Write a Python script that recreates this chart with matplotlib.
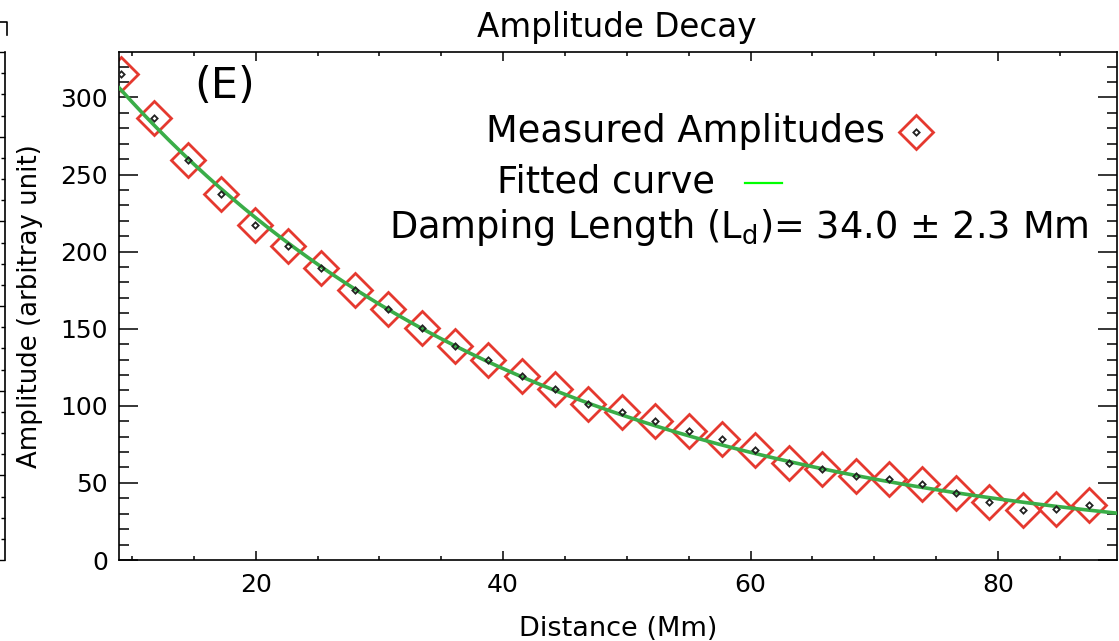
import numpy as np
import matplotlib
matplotlib.use('Agg')
import matplotlib.pyplot as plt
from matplotlib.ticker import MultipleLocator
from matplotlib.lines import Line2D

# ---- data ----
distance = [9.1, 11.8, 14.5, 17.2, 19.9, 22.6, 25.3, 28.0, 30.7, 33.4,
            36.1, 38.8, 41.5, 44.2, 46.9, 49.6, 52.3, 55.0, 57.7, 60.4,
            63.1, 65.8, 68.5, 71.2, 73.9, 76.6, 79.3, 82.0, 84.7, 87.4]
amplitude = [315.2, 286.4, 259.3, 237.7, 217.6, 203.4, 189.6, 174.9, 163.0, 150.5,
             139.1, 129.5, 119.4, 110.6, 101.5, 96.1, 90.2, 83.7, 78.2, 71.2,
             62.6, 59.0, 54.4, 52.5, 49.0, 43.6, 37.4, 32.4, 32.8, 35.6]
damping_length = 34.0
damping_err = 2.3
fit_amp = 396.0
fit_offset = 2.0
xticks_major = [20, 40, 60, 80]
yticks_major = [0, 50, 100, 150, 200, 250, 300]

W, H = 1119, 641
fig = plt.figure(figsize=(W / 100, H / 100), dpi=100)


def fx(px):
    return px / W


def fy(py):
    return 1 - py / H


FONT = 'DejaVu Sans'
plt.rcParams['font.family'] = [FONT]
plt.rcParams['mathtext.fontset'] = 'dejavusans'

RED = '#e5392f'

# ---- main axes ----
ax = fig.add_axes([fx(119.3), fy(560), fx(1116.7) - fx(119.3), fy(52) - fy(560)])
xs = np.linspace(8.97, 89.6, 400)
ax.plot(distance, amplitude, ls='none', marker='D', ms=17.5, mfc='none',
        mec=RED, mew=2.0, zorder=2)
ax.plot(xs, fit_amp * np.exp(-xs / damping_length) + fit_offset,
        color='#3aad48', lw=2.6, zorder=3)
ax.plot(distance, amplitude, ls='none', marker='D', ms=3.2, mfc='none',
        mec='#222222', mew=1.3, zorder=4)

ax.set_xlim(8.97, 89.6)
ax.set_ylim(0, 329.5)
ax.set_xticks(xticks_major)
ax.set_yticks(yticks_major)
ax.xaxis.set_minor_locator(MultipleLocator(5))
ax.yaxis.set_minor_locator(MultipleLocator(10))
ax.tick_params(axis='both', which='both', direction='in', top=True, right=True,
               width=1.1, labelsize=18, colors='black')
ax.tick_params(axis='x', which='major', length=6.5, pad=9)
ax.tick_params(axis='x', which='minor', length=3.2)
ax.tick_params(axis='y', which='major', length=14, pad=8)
ax.tick_params(axis='y', which='minor', length=7.5)
for s in ax.spines.values():
    s.set_linewidth(1.2)

ax.set_xlabel('Distance (Mm)', fontsize=19.5, labelpad=14)

# title and y label
fig.text(fx(617), fy(28), 'Amplitude Decay', ha='center', va='center', fontsize=23.5)
fig.text(fx(30), fy(306), 'Amplitude (arbitray unit)', rotation=90,
         ha='center', va='center', fontsize=18.7)

# panel letter
fig.text(fx(225), fy(86), '(E)', ha='center', va='center', fontsize=31)

# legend-like annotations
fig.text(fx(885), fy(132), 'Measured Amplitudes', ha='right', va='center', fontsize=26.5)
fig.add_artist(Line2D([fx(916)], [fy(132)], marker='D', ms=17.5, mfc='none',
                      mec=RED, mew=2.0, ls='none'))
fig.add_artist(Line2D([fx(916)], [fy(132)], marker='D', ms=3.2, mfc='none',
                      mec='#222222', mew=1.3, ls='none'))
fig.text(fx(715), fy(182), 'Fitted curve', ha='right', va='center', fontsize=26.5)
fig.add_artist(Line2D([fx(745), fx(782)], [fy(183), fy(183)], color='#00ff00', lw=1.6))
fig.text(fx(1088), fy(228),
         r'Damping Length (L$_{\rm d}$)= ' + f'{damping_length:.1f} \u00b1 {damping_err:.1f} Mm',
         ha='right', va='center', fontsize=26.5)

# ---- fragment of the neighbouring panel on the left ----
ax0 = fig.add_axes([fx(5) - 0.3, fy(560), 0.3, fy(52) - fy(560)])
ax0.set_xlim(0, 1)
ax0.set_ylim(0, 6)
for k, s in ax0.spines.items():
    s.set_visible(k == 'right')
ax0.spines['right'].set_linewidth(1.2)
ax0.set_xticks([])
ax0.yaxis.set_major_locator(MultipleLocator(1))
ax0.yaxis.set_minor_locator(MultipleLocator(0.25))
ax0.tick_params(axis='y', which='both', direction='in', left=False, right=True,
                labelleft=False, labelright=False, width=1.0)
ax0.tick_params(axis='y', which='major', length=6)
ax0.tick_params(axis='y', which='minor', length=3)
ax0.patch.set_visible(False)
fig.add_artist(Line2D([fx(0), fx(7), fx(7)], [fy(22), fy(22), fy(35)], color='k', lw=1.2))

fig.savefig('out.png', dpi=100)
